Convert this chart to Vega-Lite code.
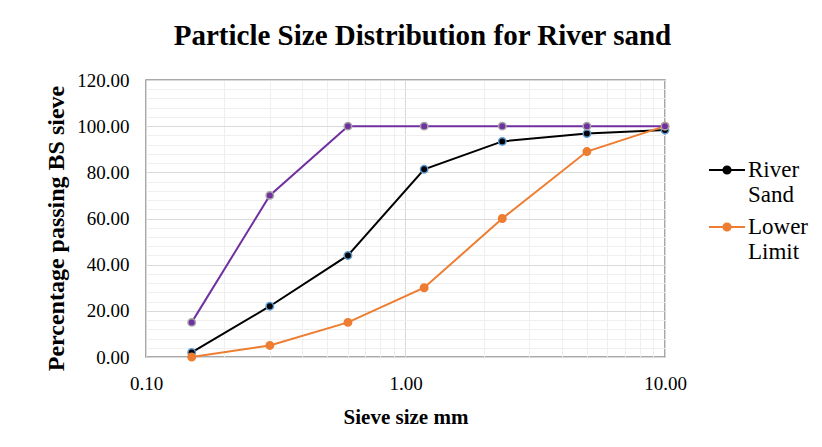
{
  "$schema": "https://vega.github.io/schema/vega-lite/v6.json",
  "autosize": {"type": "none"},
  "width": 519,
  "height": 277,
  "padding": {"left": 146, "top": 80, "right": 157, "bottom": 90},
  "background": "#ffffff",
  "config": {
    "font": "Liberation Serif",
    "view": {"stroke": "#8c8c8c", "strokeWidth": 1.5}
  },
  "title": {
    "text": "Particle Size Distribution for River sand",
    "font": "Liberation Serif",
    "fontSize": 29,
    "fontWeight": "bold",
    "color": "#000000",
    "anchor": "middle",
    "frame": "group",
    "dx": 17,
    "offset": 20
  },
  "data": {
    "values": [
      {"size": 0.15, "pct": 2.0, "series": "River Sand"},
      {"size": 0.3, "pct": 22.0, "series": "River Sand"},
      {"size": 0.6, "pct": 44.0, "series": "River Sand"},
      {"size": 1.18, "pct": 81.3, "series": "River Sand"},
      {"size": 2.36, "pct": 93.4, "series": "River Sand"},
      {"size": 5.0, "pct": 96.8, "series": "River Sand"},
      {"size": 10.0, "pct": 98.3, "series": "River Sand"},
      {"size": 0.15, "pct": 0, "series": "Lower Limit"},
      {"size": 0.3, "pct": 5, "series": "Lower Limit"},
      {"size": 0.6, "pct": 15, "series": "Lower Limit"},
      {"size": 1.18, "pct": 30, "series": "Lower Limit"},
      {"size": 2.36, "pct": 60, "series": "Lower Limit"},
      {"size": 5.0, "pct": 89, "series": "Lower Limit"},
      {"size": 10.0, "pct": 100, "series": "Lower Limit"},
      {"size": 0.15, "pct": 15, "series": "Upper Limit"},
      {"size": 0.3, "pct": 70, "series": "Upper Limit"},
      {"size": 0.6, "pct": 100, "series": "Upper Limit"},
      {"size": 1.18, "pct": 100, "series": "Upper Limit"},
      {"size": 2.36, "pct": 100, "series": "Upper Limit"},
      {"size": 5.0, "pct": 100, "series": "Upper Limit"},
      {"size": 10.0, "pct": 100, "series": "Upper Limit"}
    ]
  },
  "layer": [
    {
      "mark": {"type": "line", "strokeWidth": 2, "clip": false},
      "encoding": {
        "x": {
          "field": "size", "type": "quantitative",
          "scale": {"type": "log", "domain": [0.1, 10], "nice": false},
          "axis": {
            "orient": "bottom",
            "values": [0.2, 0.3, 0.4, 0.5, 0.6, 0.7, 0.8, 0.9, 2, 3, 4, 5, 6, 7, 8, 9],
            "grid": true, "gridColor": "#efefef", "gridWidth": 1,
            "labels": false, "ticks": false, "domain": false, "title": null
          }
        },
        "y": {
          "field": "pct", "type": "quantitative",
          "scale": {"domain": [0, 120], "nice": false},
          "axis": {
            "orient": "left",
            "values": [4, 8, 12, 16, 24, 28, 32, 36, 44, 48, 52, 56, 64, 68, 72, 76, 84, 88, 92, 96, 104, 108, 112, 116],
            "grid": true, "gridColor": "#efefef", "gridWidth": 1,
            "labels": false, "ticks": false, "domain": false, "title": null
          }
        },
        "color": {
          "field": "series", "type": "nominal",
          "scale": {"domain": ["River Sand", "Lower Limit", "Upper Limit"], "range": ["#000000", "#ED7D31", "#7030A0"]},
          "legend": {
            "orient": "none",
            "legendX": 562,
            "legendY": 71,
            "values": ["River Sand", "Lower Limit"],
            "title": null,
            "padding": 0,
            "symbolType": "M-1,0L-0.2,0M0.2,0L1,0M0.2,0A0.2,0.2,0,1,1,-0.2,0A0.2,0.2,0,1,1,0.2,0",
            "symbolSize": 1296,
            "symbolStrokeWidth": 2,
            "labelFont": "Liberation Serif",
            "labelFontSize": 23,
            "labelColor": "#000000",
            "labelOffset": 2,
            "labelLimit": 200,
            "rowPadding": 1,
            "labelExpr": "datum.label == 'River Sand' ? ['River', 'Sand'] : ['Lower', 'Limit']",
            "encode": {
              "symbols": {"update": {"fill": {"scale": "color", "field": "value"}}},
              "labels": {"update": {"lineHeight": {"value": 25}}}
            }
          }
        }
      }
    },
    {
      "mark": {"type": "point", "filled": true, "size": 55, "opacity": 1, "strokeWidth": 1.5, "clip": false},
      "encoding": {
        "x": {
          "field": "size", "type": "quantitative",
          "scale": {"type": "log", "domain": [0.1, 10], "nice": false},
          "axis": {
            "orient": "bottom",
            "values": [0.1, 1, 10],
            "format": ".2f",
            "labelFlush": false,
            "grid": true, "gridColor": "#d9d9d9", "gridWidth": 1,
            "ticks": false, "domain": false,
            "labelFont": "Liberation Serif", "labelFontSize": 19, "labelColor": "#000000",
            "labelPadding": 17,
            "title": "Sieve size mm",
            "titleFont": "Liberation Serif", "titleFontSize": 21, "titleFontWeight": "bold", "titleColor": "#000000",
            "titlePadding": 13
          }
        },
        "y": {
          "field": "pct", "type": "quantitative",
          "scale": {"domain": [0, 120], "nice": false},
          "axis": {
            "orient": "left",
            "values": [0, 20, 40, 60, 80, 100, 120],
            "format": ".2f",
            "grid": true, "gridColor": "#d9d9d9", "gridWidth": 1,
            "ticks": false, "domain": false,
            "labelFont": "Liberation Serif", "labelFontSize": 19, "labelColor": "#000000",
            "labelPadding": 17,
            "title": "Percentage passing BS sieve",
            "titleFont": "Liberation Serif", "titleFontSize": 24, "titleFontWeight": "bold", "titleColor": "#000000",
            "titlePadding": 8,
            "titleY": 148
          }
        },
        "color": {"field": "series", "type": "nominal", "legend": null},
        "stroke": {
          "field": "series", "type": "nominal",
          "scale": {"domain": ["River Sand", "Lower Limit", "Upper Limit"], "range": ["#5B9BD5", "#ED7D31", "#A5A5A5"]},
          "legend": null
        }
      }
    }
  ],
  "resolve": {"axis": {"x": "independent", "y": "independent"}}
}
